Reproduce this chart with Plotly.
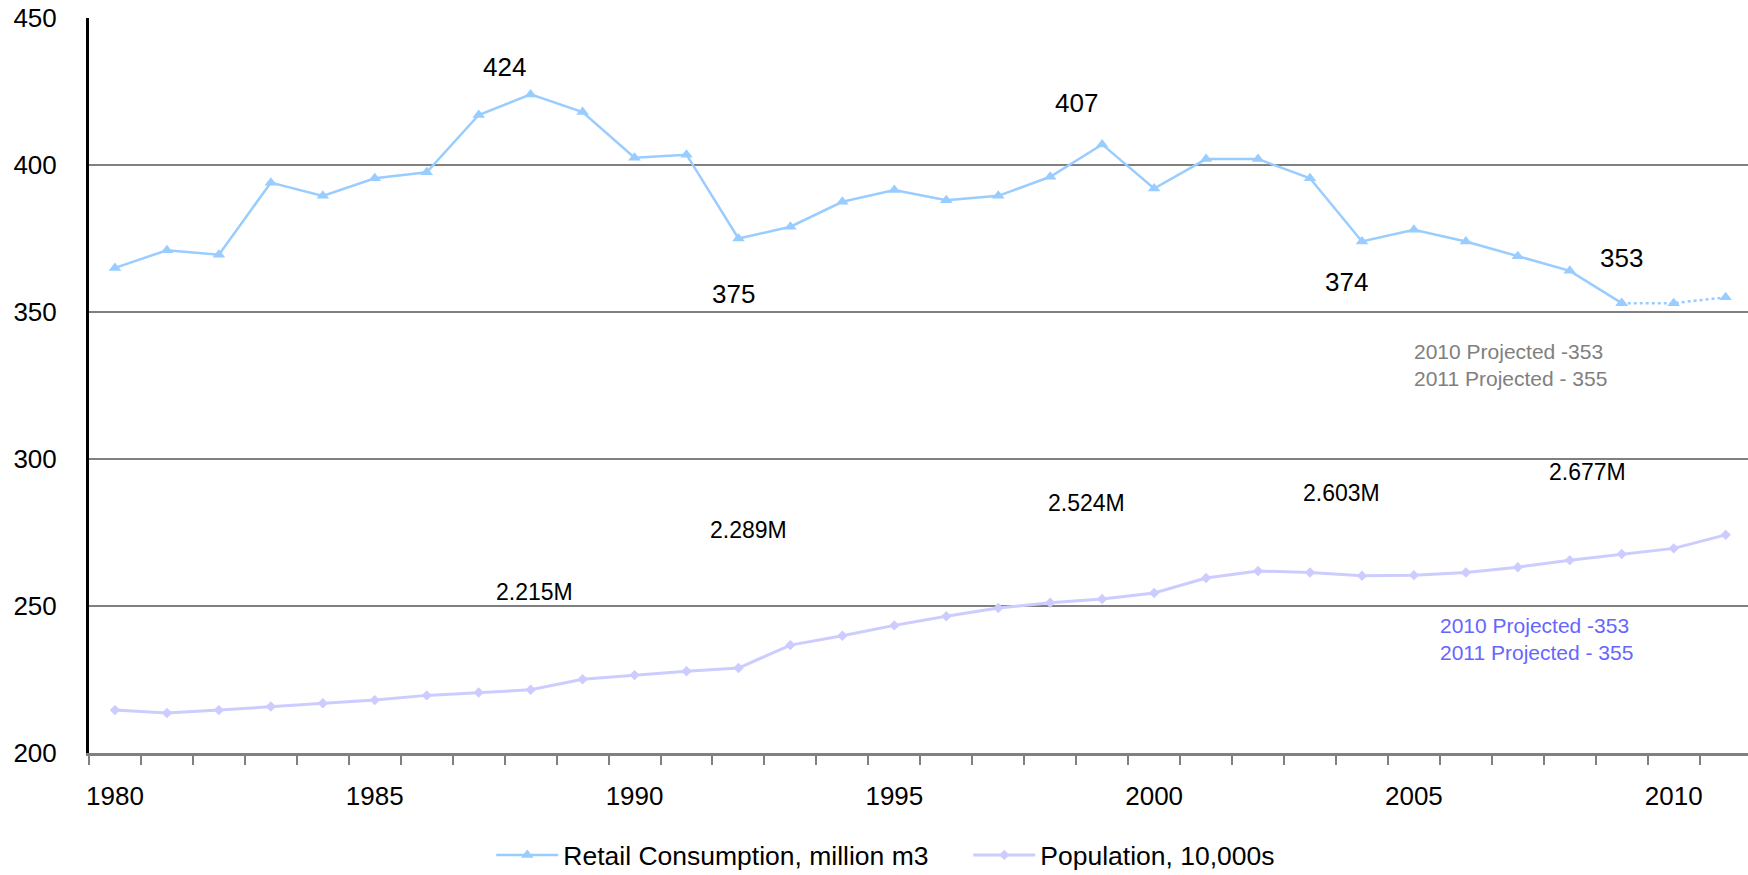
import plotly.graph_objects as go

# Annual series, 1980-2011
years = list(range(1980, 2012))
retail = [365, 371, 369.5, 394, 389.5, 395.5, 397.5, 417, 424, 418,
          402.5, 403.5, 375, 379, 387.5, 391.5, 388, 389.5, 396, 407,
          392, 402, 402, 395.5, 374, 378, 374, 369, 364, 353,
          353, 355]
population = [214.6, 213.6, 214.6, 215.8, 216.9, 218.0, 219.6, 220.6, 221.5, 225.1,
              226.5, 227.8, 228.9, 236.7, 239.9, 243.4, 246.5, 249.3, 251.1, 252.4,
              254.4, 259.5, 261.9, 261.4, 260.3, 260.5, 261.4, 263.2, 265.6, 267.7,
              269.6, 274.2]

# last actual year; later years are projections
last_actual = 2009
tick_years = [1980, 1985, 1990, 1995, 2000, 2005, 2010]

# years whose values are called out with a label (with label anchor in data units)
retail_callouts = [(1988, 1987.5, 433.3), (1992, 1991.9, 356.1), (1999, 1998.5, 421.2),
                   (2004, 2003.7, 360.2), (2009, 2009.0, 368.2)]
pop_callouts = [(1988, 1988.07, 254.9), (1992, 1992.2, 275.8), (1999, 1998.7, 285.2),
                (2004, 2003.6, 288.6), (2009, 2008.35, 295.5)]

RETAIL_C = "#99CCFF"
POP_C = "#CCCCFF"
FONT = "Liberation Sans, Arial, sans-serif"

i_last = years.index(last_actual)

fig = go.Figure()
fig.add_trace(go.Scatter(
    x=years[:i_last + 1], y=retail[:i_last + 1], mode="lines+markers",
    name="Retail Consumption, million m3",
    line=dict(color=RETAIL_C, width=2.5),
    marker=dict(symbol="triangle-up", size=11, color=RETAIL_C),
))
fig.add_trace(go.Scatter(
    x=years[i_last:], y=retail[i_last:], mode="lines+markers",
    showlegend=False,
    line=dict(color=RETAIL_C, width=2.5, dash="dot"),
    marker=dict(symbol="triangle-up", size=11, color=RETAIL_C),
))
fig.add_trace(go.Scatter(
    x=years, y=population, mode="lines+markers",
    name="Population, 10,000s",
    line=dict(color=POP_C, width=3),
    marker=dict(symbol="diamond", size=8, color=POP_C),
))

annotations = []
for yr, ax_, ay_ in retail_callouts:
    annotations.append(dict(x=ax_, y=ay_, xref="x", yref="y", showarrow=False,
                            text=f"{retail[years.index(yr)]:.0f}",
                            font=dict(family=FONT, size=26, color="black")))
for yr, ax_, ay_ in pop_callouts:
    annotations.append(dict(x=ax_, y=ay_, xref="x", yref="y", showarrow=False,
                            text=f"{population[years.index(yr)] / 100:.3f}M",
                            font=dict(family=FONT, size=23, color="black")))

proj_text = (f"{years[-2]} Projected -{retail[-2]:.0f}<br>"
             f"{years[-1]} Projected - {retail[-1]:.0f}")
annotations.append(dict(x=2004.96, y=332.1, xref="x", yref="y", showarrow=False,
                        xanchor="left", align="left", text=proj_text,
                        font=dict(family=FONT, size=21, color="#808080")))
annotations.append(dict(x=2005.47, y=238.8, xref="x", yref="y", showarrow=False,
                        xanchor="left", align="left", text=proj_text,
                        font=dict(family=FONT, size=21, color="#6666FF")))

fig.update_layout(
    width=1748, height=875,
    margin=dict(l=89, r=0, t=18, b=122, autoexpand=False),
    paper_bgcolor="white", plot_bgcolor="white",
    font=dict(family=FONT, size=26, color="black"),
    annotations=annotations,
    legend=dict(orientation="h", x=0.530, xanchor="center", y=-0.139, yanchor="middle",
                font=dict(family=FONT, size=26.5, color="black"),
                itemwidth=62, tracegroupgap=0,
                entrywidthmode="pixels", entrywidth=400),
    xaxis=dict(
        range=[1979.5, 2011.43], tickmode="array", tickvals=tick_years,
        ticks="", showgrid=False, zeroline=False,
        showline=True, linecolor="#808080", linewidth=3,
        tickfont=dict(family=FONT, size=26), ticklabelstandoff=18,
        minor=dict(tickmode="array", tickvals=[y - 0.5 for y in years] + [years[-1] + 0.5],
                   ticks="outside", ticklen=9, tickwidth=2, tickcolor="#808080",
                   showgrid=False),
    ),
    yaxis=dict(
        range=[200, 450], tickmode="array", tickvals=[200, 250, 300, 350, 400, 450],
        ticks="", showgrid=True, gridcolor="#808080", gridwidth=2,
        zeroline=False, showline=True, linecolor="black", linewidth=3,
        tickfont=dict(family=FONT, size=26), ticklabelstandoff=24,
    ),
)

fig.write_html("out.html")
